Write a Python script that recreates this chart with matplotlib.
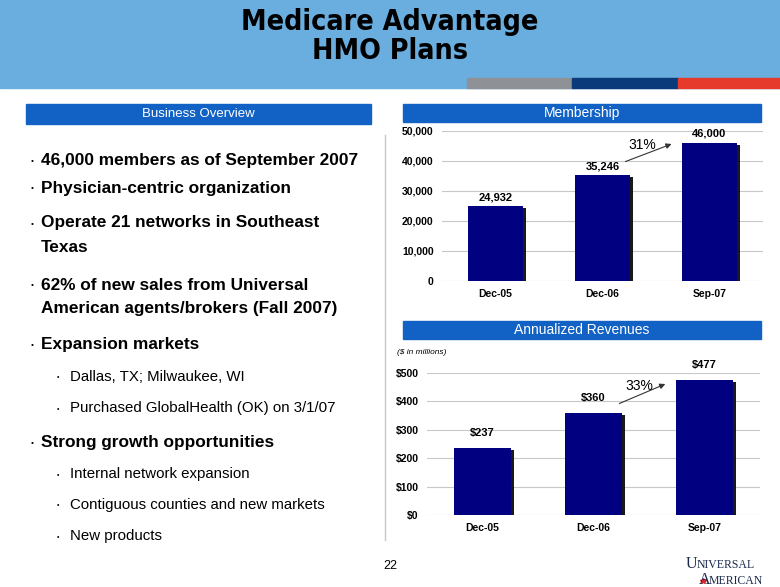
import matplotlib.pyplot as plt
import matplotlib.patheffects as pe
from matplotlib.patches import Rectangle
from matplotlib.ticker import FuncFormatter

periods = ['Dec-05', 'Dec-06', 'Sep-07']
members = [24932, 35246, 46000]
revenues = [237, 360, 477]
member_ticks = [0, 10000, 20000, 30000, 40000, 50000]
revenue_ticks = [0, 100, 200, 300, 400, 500]
member_growth = '31%'
revenue_growth = '33%'

bullets = [
    ('main', '46,000 members as of September 2007'),
    ('main', 'Physician-centric organization'),
    ('main', 'Operate 21 networks in Southeast\nTexas'),
    ('main', '62% of new sales from Universal\nAmerican agents/brokers (Fall 2007)'),
    ('main', 'Expansion markets'),
    ('sub', 'Dallas, TX; Milwaukee, WI'),
    ('sub', 'Purchased GlobalHealth (OK) on 3/1/07'),
    ('main', 'Strong growth opportunities'),
    ('sub', 'Internal network expansion'),
    ('sub', 'Contiguous counties and new markets'),
    ('sub', 'New products'),
]
bullet_y = [161, 188, 223, 285, 345, 377, 408, 442, 474, 505, 536]

W, H = 780, 587
BANNER = '#6AAEE0'
HEADER = '#1262C6'
NAVY = '#000080'
LOGO = '#1C2A4E'

plt.rcParams['font.family'] = ['Liberation Sans', 'DejaVu Sans']
fig = plt.figure(figsize=(W / 100, H / 100), dpi=100)
fig.patch.set_facecolor('white')


def px(x, y):
    return x / W, 1 - y / H


def box(x0, y0, x1, y1, color):
    fig.patches.append(Rectangle((x0 / W, 1 - y1 / H), (x1 - x0) / W, (y1 - y0) / H,
                                 transform=fig.transFigure, color=color, zorder=0))


# title banner
box(0, 0, W, 88, BANNER)
box(467, 78, 572, 88, '#8E9297')
box(572, 78, 678, 88, '#0B3A7A')
box(678, 78, W, 88, '#E63A2C')
for txt, y in [('Medicare Advantage', 22), ('HMO Plans', 51)]:
    fig.text(*px(390, y), txt, ha='center', va='center', fontsize=20.5, fontweight='heavy',
             family='DejaVu Sans', fontstretch='condensed')

# section headers
box(26, 104, 371, 124, HEADER)
fig.text(*px(198, 114), 'Business Overview', ha='center', va='center', color='white', fontsize=9.5)
box(403, 104, 761, 122, HEADER)
fig.text(*px(582, 113), 'Membership', ha='center', va='center', color='white', fontsize=10)
box(403, 321, 761, 339, HEADER)
fig.text(*px(582, 330), 'Annualized Revenues', ha='center', va='center', color='white', fontsize=10)

# divider
fig.add_artist(plt.Line2D([385 / W, 385 / W], [1 - 135 / H, 1 - 540 / H], color='#c8c8c8', lw=1))

# bullet text
for (kind, txt), y in zip(bullets, bullet_y):
    if kind == 'main':
        fig.text(*px(31, y + 1), '•', ha='left', va='center', fontsize=6)
        for i, line in enumerate(txt.split('\n')):
            fig.text(*px(41, y + i * 24), line, ha='left', va='center',
                     fontsize=12.4, fontweight='bold')
    else:
        fig.text(*px(57, y + 1), '•', ha='left', va='center', fontsize=5)
        fig.text(*px(70, y), txt, ha='left', va='center', fontsize=10.8)

shadow = [pe.SimplePatchShadow(offset=(2, -1.5), shadow_rgbFace='black', alpha=0.9), pe.Normal()]


def bar_chart(rect, values, ticks, fmt, labels, label_pad):
    ax = fig.add_axes(rect)
    x = range(len(periods))
    bars = ax.bar(x, values, width=0.51, color=NAVY, zorder=3)
    for b in bars:
        b.set_path_effects(shadow)
    ax.set_xlim(-0.5, 2.5)
    ax.set_ylim(ticks[0], ticks[-1])
    ax.set_yticks(ticks)
    ax.yaxis.set_major_formatter(FuncFormatter(fmt))
    ax.set_xticks(list(x))
    ax.set_xticklabels(periods)
    ax.grid(axis='y', color='#c8c8c8', lw=0.8, zorder=0)
    for s in ax.spines.values():
        s.set_visible(False)
    ax.tick_params(length=0, labelsize=7.5, pad=6)
    for t in ax.get_xticklabels() + ax.get_yticklabels():
        t.set_fontweight('bold')
    for xi, v, lab in zip(x, values, labels):
        ax.annotate(lab, (xi, v), xytext=(0, label_pad), textcoords='offset points',
                    ha='center', va='bottom', fontsize=8, fontweight='bold')
    return ax


ax1 = bar_chart([442 / W, 1 - 281 / H, 321 / W, 150 / H], members, member_ticks,
                lambda v, p: f'{v:,.0f}', [f'{v:,}' for v in members], 3)
ax1.annotate('', xy=(1.67, members[2]), xytext=(1.19, members[1] * 1.12),
             arrowprops=dict(arrowstyle='-|>', color='#333333', lw=0.8, mutation_scale=8))
ax1.text(1.37, members[2] * 0.985, member_growth, ha='center', va='center', fontsize=10)

ax2 = bar_chart([427 / W, 1 - 515 / H, 333 / W, 142 / H], revenues, revenue_ticks,
                lambda v, p: f'${v:.0f}', [f'${v}' for v in revenues], 7)
ax2.annotate('', xy=(1.67, revenues[2] * 0.975), xytext=(1.21, revenues[1] * 1.08),
             arrowprops=dict(arrowstyle='-|>', color='#333333', lw=0.8, mutation_scale=8))
ax2.text(1.41, revenues[2] * 0.95, revenue_growth, ha='center', va='center', fontsize=10)
fig.text(*px(397, 352), '($ in millions)', ha='left', va='center', fontsize=6, style='italic')

# page number and logo
fig.text(*px(390, 566), '22', ha='center', va='center', fontsize=9)
fig.text(*px(686, 568), 'U', ha='left', va='baseline', fontsize=11.5, family='Liberation Serif', color=LOGO)
fig.text(*px(697, 568), 'NIVERSAL', ha='left', va='baseline', fontsize=8.5, family='Liberation Serif', color=LOGO)
fig.text(*px(699, 584), 'A', ha='left', va='baseline', fontsize=11.5, family='Liberation Serif', color=LOGO)
fig.text(*px(709, 584), 'MERICAN', ha='left', va='baseline', fontsize=8.5, family='Liberation Serif', color=LOGO)
fig.add_artist(plt.Line2D([703 / W], [1 - 581 / H], marker='*', color='#D8262A', markersize=4, lw=0))

fig.savefig('out.png', dpi=100)
